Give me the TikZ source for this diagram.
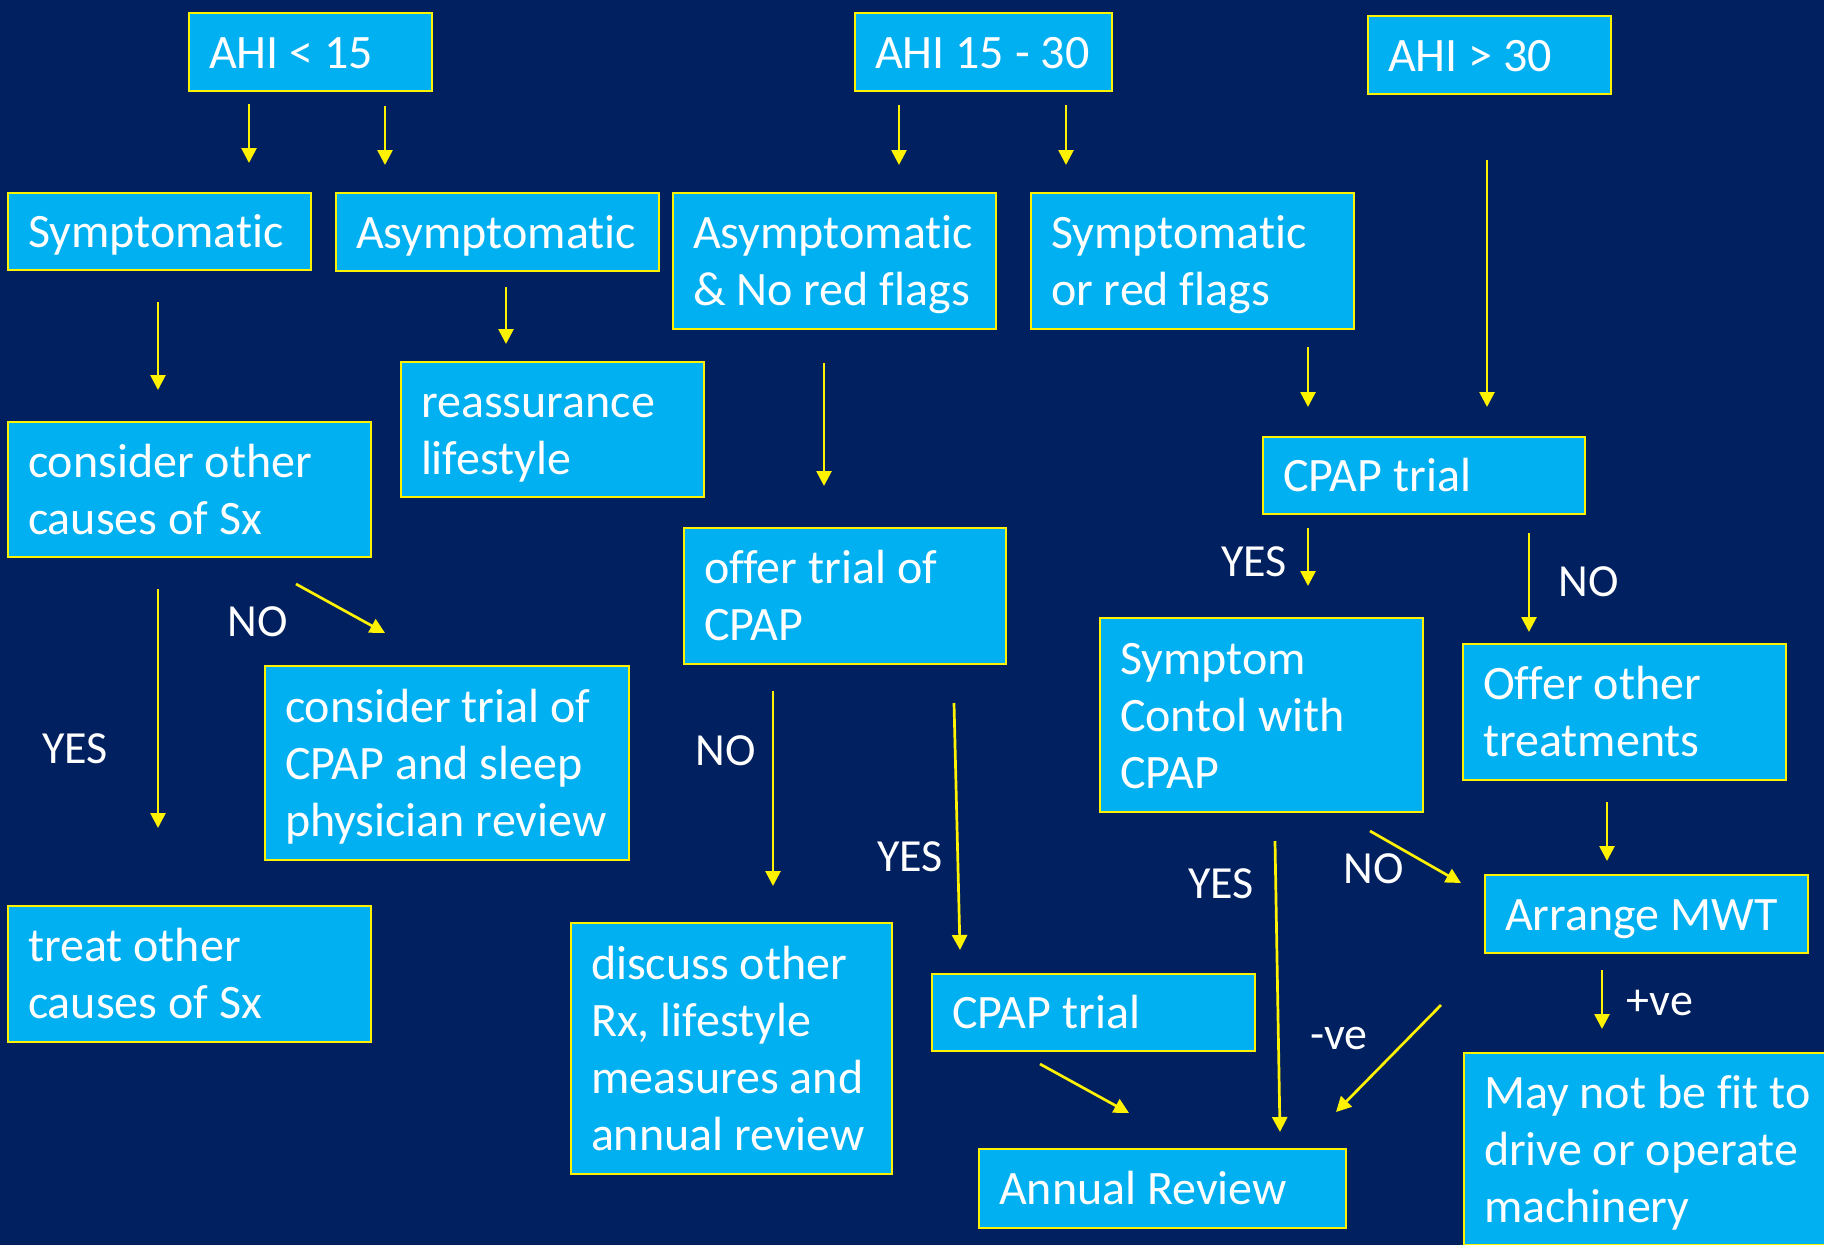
\documentclass[tikz,border=0pt]{standalone}
\usepackage{fontspec}
\setmainfont{Carlito}[Ligatures=NoCommon]
\usetikzlibrary{arrows.meta}

\definecolor{slidebg}{RGB}{0,32,96}
\definecolor{boxblue}{RGB}{0,176,240}
\newcommand{\boxstrut}{\rule[-12pt]{0pt}{56pt}}

\tikzset{every picture/.style={line width=2pt}}

\begin{document}
\begin{tikzpicture}[x=1pt,y=1pt,yscale=-1,xscale=1,
  box/.style 2 args={draw=yellow, fill=boxblue, text=white, anchor=north west,
    inner xsep=20pt, inner ysep=0pt, text width=#1, minimum height=#2, align=flush left,
    font=\fontsize{48}{57}\selectfont,
    execute at begin node=\boxstrut, execute at end node=\boxstrut},
  lbl/.style={text=white, anchor=base, inner sep=0pt, font=\fontsize{46}{55}\selectfont},
  arr/.style={draw=yellow, line width=2.7pt, -{Triangle[length=15pt,width=15pt]}}]

%Background
\fill [slidebg] (0,0) rectangle (1824,1245);
\useasboundingbox (0,0) rectangle (1824,1245);

% Boxes, top row
\node [box={203pt}{78pt}] (ahiA) at (188,12) {AHI < 15};
\node [box={217pt}{78pt}] (ahiB) at (854,12) {AHI 15 - 30};
\node [box={203pt}{78pt}] (ahiC) at (1367,15) {AHI > 30};
% Boxes, second row
\node [box={263pt}{77pt}] (sym) at (7,192) {Symptomatic};
\node [box={283pt}{78pt}] (asym) at (335,192) {Asymptomatic};
\node [box={283pt}{136pt}] (asymNo) at (672,192) {Asymptomatic\\\& No red flags};
\node [box={283pt}{136pt}] (symRed) at (1030,192) {Symptomatic\\or red flags};
% Boxes, middle
\node [box={263pt}{135pt}] (reassure) at (400,361) {reassurance\\lifestyle};
\node [box={323pt}{135pt}] (otherCauses) at (7,421) {consider other\\causes of Sx};
\node [box={282pt}{77pt}] (cpapR) at (1262,436) {CPAP trial};
\node [box={282pt}{136pt}] (offer) at (683,527) {offer trial of\\CPAP};
\node [box={283pt}{194pt}] (symCtrl) at (1099,617) {Symptom\\Contol with\\CPAP};
\node [box={283pt}{136pt}] (offerOther) at (1462,643) {Offer other\\treatments};
\node [box={324pt}{194pt}] (considerTrial) at (264,665) {consider trial of\\CPAP and sleep\\physician review};
% Boxes, bottom
\node [box={283pt}{78pt}] (mwt) at (1484,874) {Arrange MWT};
\node [box={323pt}{136pt}] (treat) at (7,905) {treat other\\causes of Sx};
\node [box={281pt}{251pt}] (discuss) at (570,922) {discuss other\\Rx, lifestyle\\measures and\\annual review};
\node [box={283pt}{77pt}] (cpapM) at (931,973) {CPAP trial};
\node [box={340pt}{192pt}] (mayNot) at (1463,1052) {May not be fit to\\drive or operate\\machinery};
\node [box={327pt}{79pt}] (annual) at (978,1148) {Annual Review};

% Arrows
\draw [arr] ([shift={(61,12)}]ahiA.south west) -- ([shift={(242,-29)}]sym.north west);
\draw [arr] ([shift={(197,14)}]ahiA.south west) -- ([shift={(50,-27)}]asym.north west);
\draw [arr] ([shift={(45,13)}]ahiB.south west) -- ([shift={(227,-27)}]asymNo.north west);
\draw [arr] ([shift={(212,13)}]ahiB.south west) -- ([shift={(36,-27)}]symRed.north west);
\draw [arr] ([shift={(120,65)}]ahiC.south west) -- ([shift={(225,-29)}]cpapR.north west);
\draw [arr] ([shift={(151,31)}]sym.south west) -- ([shift={(151,-31)}]otherCauses.north west);
\draw [arr] ([shift={(171,15)}]asym.south west) -- ([shift={(106,-17)}]reassure.north west);
\draw [arr] ([shift={(152,33)}]asymNo.south west) -- ([shift={(141,-41)}]offer.north west);
\draw [arr] ([shift={(278,17)}]symRed.south west) -- ([shift={(46,-29)}]cpapR.north west);
\draw [arr] ([shift={(151,31)}]otherCauses.south west) -- ([shift={(151,-77)}]treat.north west);
\draw [arr] ([shift={(289,26)}]otherCauses.south west) -- ([shift={(121,-32)}]considerTrial.north west);
\draw [arr] ([shift={(90,26)}]offer.south west) -- ([shift={(203,-36)}]discuss.north west);
\draw [arr] ([shift={(271,38)}]offer.south west) -- ([shift={(29,-23)}]cpapM.north west);
\draw [arr] ([shift={(46,13)}]cpapR.south west) -- ([shift={(209,-31)}]symCtrl.north west);
\draw [arr] ([shift={(267,18)}]cpapR.south west) -- ([shift={(67,-11)}]offerOther.north west);
\draw [arr] ([shift={(176,28)}]symCtrl.south west) -- ([shift={(302,-16)}]annual.north west);
\draw [arr] ([shift={(271,18)}]symCtrl.south west) -- ([shift={(-23,9)}]mwt.north west);
\draw [arr] ([shift={(145,21)}]offerOther.south west) -- ([shift={(123,-13)}]mwt.north west);
\draw [arr] ([shift={(118,16)}]mwt.south west) -- ([shift={(139,-23)}]mayNot.north west);
\draw [arr] ([shift={(-43,51)}]mwt.south west) -- ([shift={(358,-36)}]annual.north west);
\draw [arr] ([shift={(109,12)}]cpapM.south west) -- ([shift={(151,-35)}]annual.north west);

% Text Node labels
\node [lbl] (noA) at (258,636) {NO};
\node [lbl] (yesA) at (75,763) {YES};
\node [lbl] (noB) at (726,765) {NO};
\node [lbl] (yesB) at (910,871) {YES};
\node [lbl] (yesC) at (1254,576) {YES};
\node [lbl] (noC) at (1589,596) {NO};
\node [lbl] (yesD) at (1221,898) {YES};
\node [lbl] (noD) at (1374,883) {NO};
\node [lbl] (posVe) at (1660,1015) {+ve};
\node [lbl] (negVe) at (1339,1049) {-ve};

\end{tikzpicture}
\end{document}
